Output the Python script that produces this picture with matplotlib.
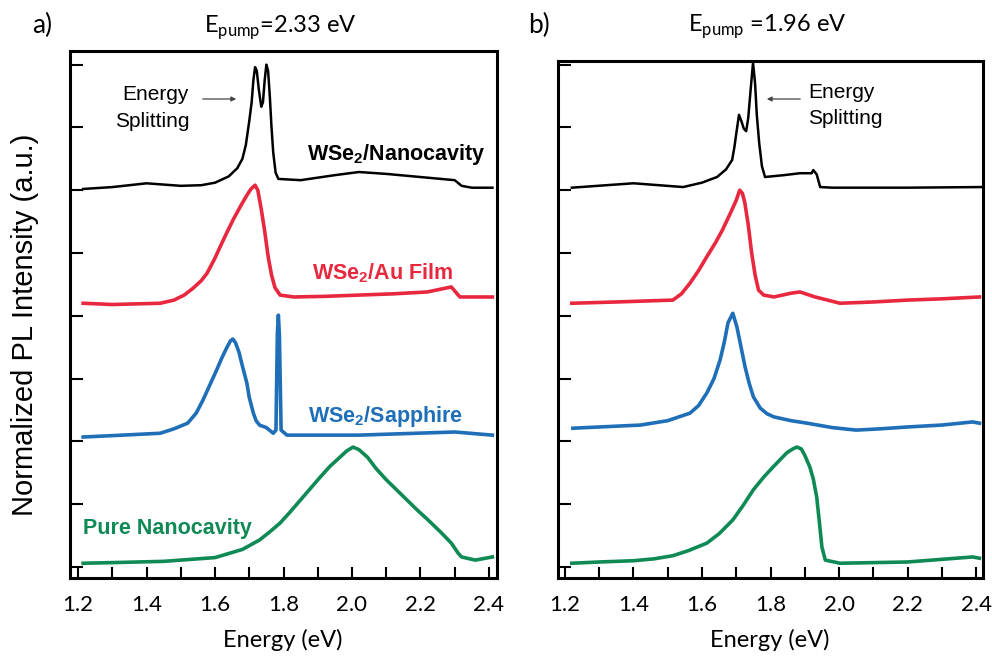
import matplotlib
matplotlib.use("Agg")
import matplotlib.pyplot as plt

plt.rcParams['mathtext.fontset'] = 'custom'
plt.rcParams['mathtext.rm'] = 'Lato'
plt.rcParams['mathtext.bf'] = 'Liberation Sans:bold'

RED = '#e8283f'
BLUE = '#1f6fb8'
GREEN = '#0f8a55'

# panel a) pump 2.33 eV  (energy in eV, offset intensity)
a_black_e = [1.215, 1.30, 1.40, 1.50, 1.56, 1.60, 1.64, 1.665, 1.68, 1.69, 1.70, 1.707, 1.712, 1.717,
             1.722, 1.728, 1.735, 1.74, 1.745, 1.75, 1.755, 1.76, 1.765, 1.77, 1.777, 1.785, 1.85,
             1.95, 2.02, 2.10, 2.20, 2.30, 2.32, 2.35, 2.41]
a_black_y = [6.02, 6.05, 6.11, 6.07, 6.08, 6.12, 6.22, 6.35, 6.50, 6.72, 7.10, 7.40, 7.75, 7.96,
             7.90, 7.60, 7.33, 7.40, 7.75, 8.00, 7.90, 7.50, 7.00, 6.60, 6.28, 6.18, 6.16,
             6.24, 6.29, 6.26, 6.21, 6.16, 6.07, 6.04, 6.04]

a_red_e = [1.215, 1.30, 1.44, 1.48, 1.51, 1.536, 1.56, 1.577, 1.60, 1.615, 1.635, 1.653, 1.675,
           1.693, 1.705, 1.717, 1.725, 1.735, 1.745, 1.755, 1.765, 1.775, 1.79, 1.83, 1.92, 2.02,
           2.12, 2.22, 2.29, 2.315, 2.41]
a_red_y = [4.20, 4.18, 4.20, 4.25, 4.33, 4.44, 4.56, 4.68, 4.92, 5.10, 5.33, 5.53, 5.75,
           5.92, 6.02, 6.08, 6.00, 5.70, 5.35, 4.95, 4.65, 4.45, 4.33, 4.30, 4.31, 4.33,
           4.35, 4.38, 4.46, 4.30, 4.30]

a_blue_e = [1.215, 1.33, 1.44, 1.48, 1.52, 1.545, 1.565, 1.585, 1.605, 1.62, 1.635, 1.645, 1.652,
            1.66, 1.67, 1.68, 1.693, 1.70, 1.712, 1.72, 1.73, 1.75, 1.77, 1.778, 1.782, 1.785,
            1.788, 1.793, 1.81, 2.02, 2.30, 2.41]
a_blue_y = [2.07, 2.10, 2.13, 2.20, 2.29, 2.45, 2.66, 2.90, 3.14, 3.33, 3.50, 3.60, 3.63,
            3.57, 3.42, 3.20, 2.93, 2.70, 2.45, 2.33, 2.26, 2.22, 2.13, 2.18, 3.70, 4.01,
            3.70, 2.18, 2.10, 2.10, 2.15, 2.10]

a_green_e = [1.215, 1.30, 1.45, 1.60, 1.68, 1.73, 1.76, 1.79, 1.82, 1.85, 1.88, 1.907, 1.935,
             1.965, 1.985, 2.003, 2.02, 2.045, 2.07, 2.10, 2.13, 2.16, 2.19, 2.22, 2.26, 2.29,
             2.31, 2.32, 2.36, 2.41]
a_green_y = [0.06, 0.07, 0.09, 0.15, 0.28, 0.43, 0.56, 0.70, 0.88, 1.07, 1.26, 1.43, 1.60,
             1.75, 1.85, 1.91, 1.87, 1.75, 1.57, 1.39, 1.23, 1.07, 0.91, 0.76, 0.55, 0.38,
             0.22, 0.16, 0.11, 0.16]

# panel b) pump 1.96 eV
b_black_e = [1.22, 1.40, 1.545, 1.60, 1.644, 1.67, 1.688, 1.695, 1.70, 1.708, 1.715, 1.722, 1.729,
             1.735, 1.742, 1.749, 1.755, 1.76, 1.767, 1.775, 1.784, 1.84, 1.886, 1.92, 1.925,
             1.935, 1.945, 1.98, 2.20, 2.42]
b_black_y = [6.04, 6.11, 6.05, 6.12, 6.21, 6.33, 6.48, 6.70, 6.90, 7.20, 7.10, 6.98, 6.94,
             7.15, 7.60, 8.03, 7.70, 7.20, 6.75, 6.38, 6.21, 6.24, 6.27, 6.27, 6.32,
             6.25, 6.05, 6.04, 6.04, 6.05]

b_red_e = [1.22, 1.35, 1.515, 1.54, 1.565, 1.59, 1.614, 1.64, 1.66, 1.68, 1.70, 1.71, 1.718,
           1.725, 1.735, 1.745, 1.755, 1.765, 1.78, 1.81, 1.86, 1.886, 1.93, 2.003, 2.10,
           2.20, 2.30, 2.41]
b_red_y = [4.20, 4.22, 4.25, 4.35, 4.52, 4.72, 4.94, 5.17, 5.37, 5.60, 5.84, 6.00, 5.95,
           5.80, 5.45, 5.00, 4.65, 4.41, 4.33, 4.30, 4.36, 4.38, 4.30, 4.20, 4.22,
           4.25, 4.27, 4.30]

b_blue_e = [1.223, 1.42, 1.50, 1.565, 1.59, 1.614, 1.635, 1.653, 1.665, 1.676, 1.69, 1.702,
            1.714, 1.726, 1.738, 1.75, 1.77, 1.79, 1.81, 1.86, 1.907, 1.98, 2.05, 2.12, 2.20,
            2.30, 2.39, 2.41]
b_blue_y = [2.21, 2.26, 2.33, 2.45, 2.57, 2.77, 3.00, 3.30, 3.58, 3.89, 4.04, 3.82,
            3.50, 3.18, 2.92, 2.71, 2.53, 2.44, 2.39, 2.33, 2.29, 2.22, 2.18, 2.20, 2.23,
            2.26, 2.31, 2.29]

b_green_e = [1.22, 1.30, 1.40, 1.46, 1.515, 1.56, 1.614, 1.65, 1.69, 1.72, 1.75, 1.78, 1.807,
             1.83, 1.848, 1.865, 1.877, 1.89, 1.90, 1.915, 1.925, 1.935, 1.943, 1.95, 1.96,
             2.003, 2.20, 2.39, 2.41]
b_green_y = [0.06, 0.08, 0.10, 0.13, 0.18, 0.26, 0.38, 0.53, 0.75, 0.98, 1.23, 1.43, 1.59,
             1.72, 1.82, 1.88, 1.91, 1.88, 1.78, 1.59, 1.40, 1.11, 0.70, 0.32, 0.11,
             0.06, 0.08, 0.16, 0.14]

xticks = [1.2, 1.3, 1.4, 1.5, 1.6, 1.7, 1.8, 1.9, 2.0, 2.1, 2.2, 2.3, 2.4]
xticklabels = ['1.2', '', '1.4', '', '1.6', '', '1.8', '', '2.0', '', '2.2', '', '2.4']
yticks = [0, 1, 2, 3, 4, 5, 6, 7, 8]

W, H = 992, 659
fig = plt.figure(figsize=(W / 100, H / 100), dpi=100)


def fx(px):
    return px / W


def fy(py):
    return 1 - py / H


ax_a = fig.add_axes([fx(70), fy(578), fx(497) - fx(70), fy(51) - fy(578)])
ax_b = fig.add_axes([fx(558), fy(578), fx(983) - fx(558), fy(61) - fy(578)])

for ax, series, xl, yl in [
    (ax_a, [(a_black_e, a_black_y, 'black', 1.8), (a_red_e, a_red_y, RED, 2.6),
            (a_blue_e, a_blue_y, BLUE, 2.6), (a_green_e, a_green_y, GREEN, 2.6)],
     (1.1766, 2.4234), (-0.175, 8.217)),
    (ax_b, [(b_black_e, b_black_y, 'black', 1.8), (b_red_e, b_red_y, RED, 2.6),
            (b_blue_e, b_blue_y, BLUE, 2.6), (b_green_e, b_green_y, GREEN, 2.6)],
     (1.1796, 2.4204), (-0.175, 8.057)),
]:
    for e, y, c, lw in series:
        ax.plot(e, y, color=c, lw=lw, solid_joinstyle='round')
    ax.set_xlim(*xl)
    ax.set_ylim(*yl)
    ax.set_xticks(xticks)
    ax.set_xticklabels(xticklabels, fontfamily='Lato', fontsize=16)
    ax.set_yticks(yticks)
    ax.set_yticklabels([])
    ax.tick_params(direction='in', length=8, width=1.5, pad=12)
    ax.tick_params(axis='y', length=9)
    for s in ax.spines.values():
        s.set_linewidth(2.2)

# titles and panel letters
fig.text(fx(32), fy(33), 'a)', fontfamily='Lato', fontsize=19, va='baseline', ha='left')
fig.text(fx(528), fy(33), 'b)', fontfamily='Lato', fontsize=19, va='baseline', ha='left')
fig.text(fx(280), fy(33), r'E$_{\mathrm{pump}}$=2.33 eV', fontfamily='Lato', fontsize=17,
         va='baseline', ha='center')
fig.text(fx(767), fy(32), r'E$_{\mathrm{pump}}$ =1.96 eV', fontfamily='Lato', fontsize=17,
         va='baseline', ha='center')

# axis labels
fig.text(fx(283), fy(640), 'Energy (eV)', fontfamily='Lato', fontsize=17, ha='center', va='center')
fig.text(fx(770), fy(640), 'Energy (eV)', fontfamily='Lato', fontsize=17, ha='center', va='center')
fig.text(fx(25), fy(325), 'Normalized PL Intensity (a.u.)', fontfamily='Liberation Sans',
         fontsize=21, rotation=90, ha='center', va='center')

# spectrum labels
lab = dict(fontfamily='Liberation Sans', fontsize=15.5, fontweight='bold', va='baseline')
fig.text(fx(485), fy(160), r'WSe$_\mathbf{2}$/Nanocavity', color='black', ha='right', **lab)
fig.text(fx(453), fy(279), r'WSe$_\mathbf{2}$/Au Film', color=RED, ha='right', **lab)
fig.text(fx(463), fy(422), r'WSe$_\mathbf{2}$/Sapphire', color=BLUE, ha='right', **lab)
fig.text(fx(83), fy(534), 'Pure Nanocavity', color=GREEN, ha='left', **lab)

# energy splitting notes
note = dict(fontfamily='Liberation Sans', fontsize=15, va='baseline')
fig.text(fx(189), fy(100), 'Energy', ha='right', **note)
fig.text(fx(190), fy(127), 'Splitting', ha='right', **note)
fig.text(fx(808), fy(98), 'Energy', ha='left', **note)
fig.text(fx(808), fy(124), 'Splitting', ha='left', **note)
arrow = dict(arrowstyle='-|>', color='#444444', lw=0.9, mutation_scale=7)
fig.add_artist(matplotlib.patches.FancyArrowPatch((fx(200), fy(99)), (fx(239), fy(99)),
                                                  transform=fig.transFigure, **arrow))
fig.add_artist(matplotlib.patches.FancyArrowPatch((fx(803), fy(99)), (fx(764), fy(99)),
                                                  transform=fig.transFigure, **arrow))

fig.savefig('out.png', dpi=100)
